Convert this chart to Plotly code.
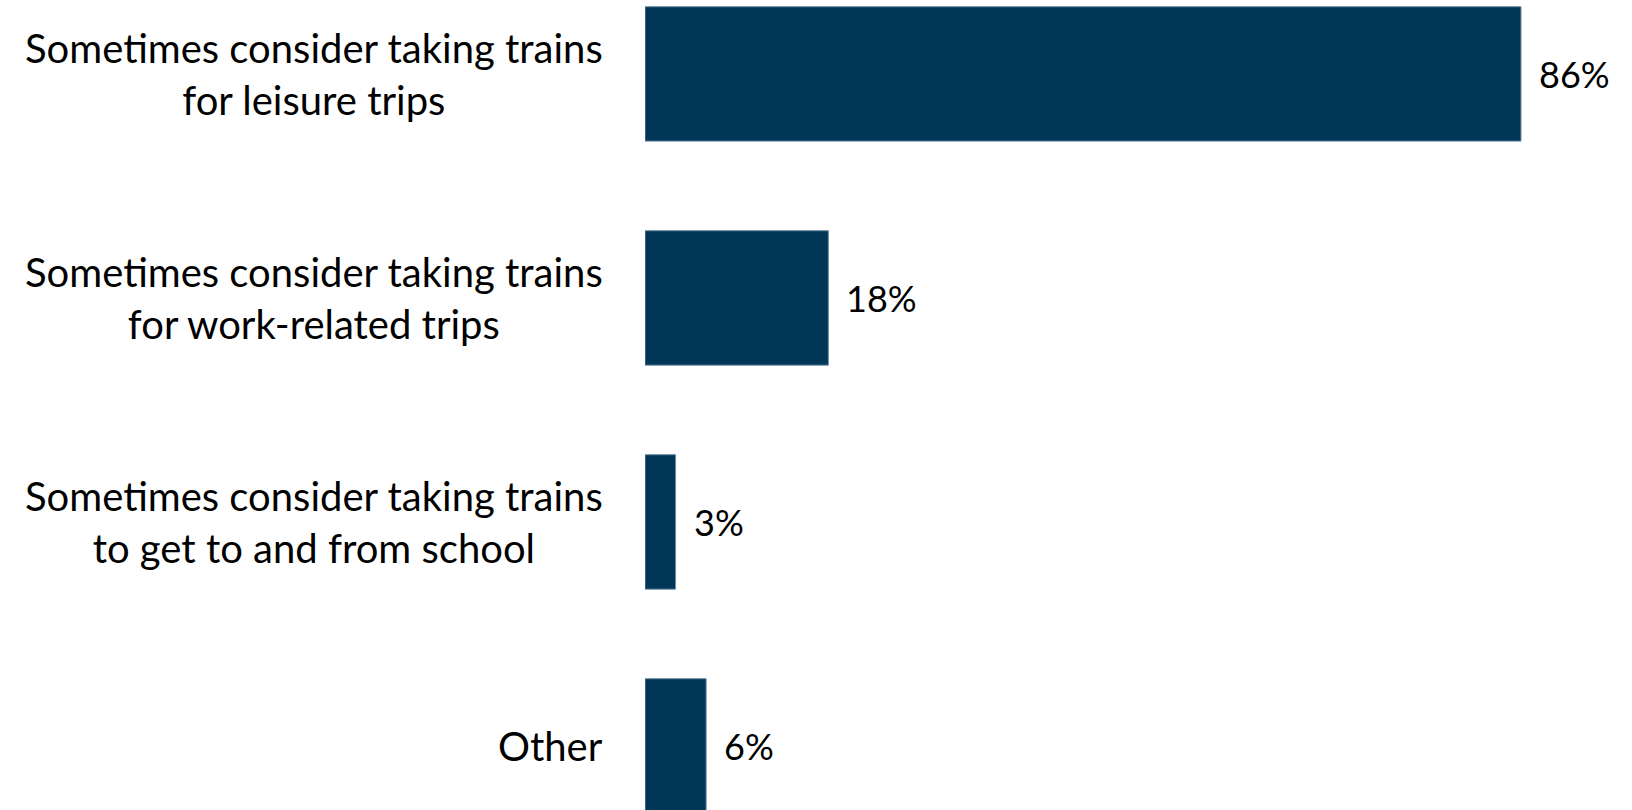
import plotly.graph_objects as go

categories = [
    "Sometimes consider taking trains<br>for leisure trips",
    "Sometimes consider taking trains<br>for work-related trips",
    "Sometimes consider taking trains<br>to get to and from school",
    "Other",
]
values = [86, 18, 3, 6]
value_labels = ["86%", "18%", "3%", "6%"]

FONT = "Lato"
fig = go.Figure()
fig.add_trace(go.Bar(
    x=values,
    y=list(range(len(categories))),
    orientation="h",
    marker=dict(color="#023656", line=dict(color="#6a8aa5", width=1)),
    width=0.6,
    hoverinfo="skip",
))

annotations = []
for i, (c, v, lab) in enumerate(zip(categories, values, value_labels)):
    annotations.append(dict(
        x=0, y=i, xref="x", yref="y", text=c, showarrow=False,
        xanchor="right", yanchor="middle", align="center", xshift=-40,
        font=dict(family=FONT, size=40, color="#000000"),
    ))
    annotations.append(dict(
        x=v, y=i, xref="x", yref="y", text=lab, showarrow=False,
        xanchor="left", yanchor="middle", xshift=16,
        font=dict(family=FONT, size=36, color="#000000"),
    ))

fig.update_layout(
    width=1632, height=810,
    margin=dict(l=645, r=0, t=0, b=0),
    paper_bgcolor="white", plot_bgcolor="white",
    showlegend=False,
    xaxis=dict(range=[0, 96.9], visible=False, fixedrange=True),
    yaxis=dict(range=[3.286, -0.330], visible=False, fixedrange=True),
    annotations=annotations,
)
fig.write_html("out.html")
